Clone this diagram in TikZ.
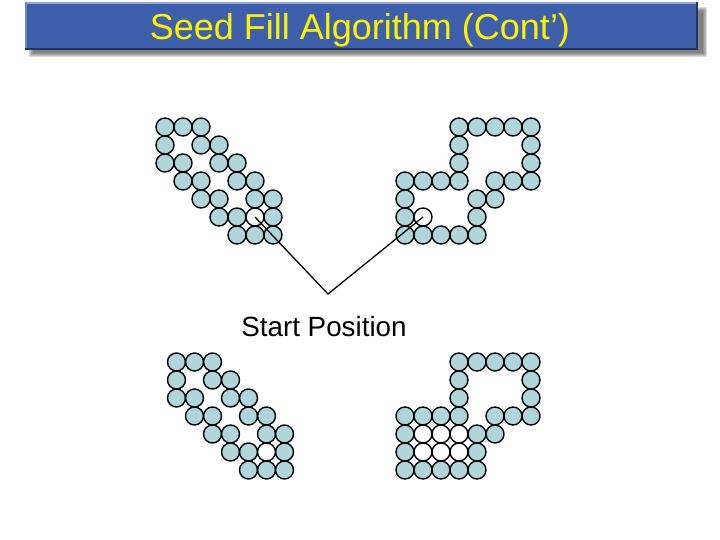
\documentclass[tikz,border=0pt]{standalone}
\usepackage{fontspec}
\setmainfont{Liberation Sans}
\definecolor{barblue}{RGB}{62,96,172}
\definecolor{cellblue}{RGB}{176,214,220}
\begin{document}
\begin{tikzpicture}[x=1pt,y=-1pt,
  cell/.style={circle,draw=black,line width=1.4pt,fill=cellblue,minimum size=18pt,inner sep=0pt},
  wcell/.style={cell,fill=white},
  pointer/.style={draw=black,line width=1.3pt}]
\useasboundingbox (0,0) rectangle (720,540);
\fill[white] (0,0) rectangle (720,540);
% title bar shadow
\foreach \d in {0,1,2,3,4}
  \fill[black!75,opacity=0.19] ({29+\d},{7+\d}) rectangle ({707-\d},{57-\d});
% title bar
\fill[barblue] (25,2) rectangle (698,50);
\fill[barblue!55!white] (25,2) rectangle (698,4);
\fill[barblue!75!white] (25,2) rectangle (27,50);
\fill[barblue!55!black] (25,48) rectangle (698,50);
\fill[barblue!55!black] (696,2) rectangle (698,50);
\node[text=yellow,font=\fontsize{36}{40}\selectfont,anchor=base,inner sep=0pt] (title) at (360,40) {Seed Fill Algorithm (Cont’)};
% top-left grid
\foreach \r/\c in {0/0,0/1,0/2,1/0,1/2,1/3,2/0,2/1,2/3,2/4,3/1,3/2,3/4,3/5,4/2,4/3,4/5,4/6,5/3,5/4,5/6,6/4,6/5,6/6}
  \node[cell] (tl-\r-\c) at ({165+18*\c},{127+18*\r}) {};
\node[wcell] (tl-5-5) at ({165+18*5},{127+18*5}) {};
% top-right grid
\foreach \r/\c in {0/3,0/4,0/5,0/6,0/7,1/3,1/7,2/3,2/7,3/0,3/1,3/2,3/3,3/5,3/6,3/7,4/0,4/4,4/5,5/0,5/4,6/0,6/1,6/2,6/3,6/4}
  \node[cell] (tr-\r-\c) at ({405+18*\c},{127+18*\r}) {};
\node[wcell] (tr-5-1) at ({405+18*1},{127+18*5}) {};
% bottom-left grid
\foreach \r/\c in {0/0,0/1,0/2,1/0,1/2,1/3,2/0,2/1,2/3,2/4,3/1,3/2,3/4,3/5,4/2,4/3,4/5,4/6,5/3,5/4,5/6,6/4,6/5,6/6}
  \node[cell] (bl-\r-\c) at ({176.5+18*\c},{362+18*\r}) {};
\node[wcell] (bl-5-5) at ({176.5+18*5},{362+18*5}) {};
% bottom-right grid
\foreach \r/\c in {0/3,0/4,0/5,0/6,0/7,1/3,1/7,2/3,2/7,3/0,3/1,3/2,3/3,3/5,3/6,3/7,4/0,4/4,4/5,5/0,5/4,6/0,6/1,6/2,6/3,6/4}
  \node[cell] (br-\r-\c) at ({405+18*\c},{362+18*\r}) {};
\foreach \r/\c in {4/1,4/2,4/3,5/1,5/2,5/3}
  \node[wcell] (br-\r-\c) at ({405+18*\c},{362+18*\r}) {};
% start position pointers
\coordinate (apex) at (328,294);
\draw[pointer] (tl-5-5.center) -- (apex) -- (tr-5-1.center);
\node[font=\fontsize{27.8}{32}\selectfont,anchor=base,inner sep=0pt] (label) at (324,336) {Start Position};
\end{tikzpicture}
\end{document}
